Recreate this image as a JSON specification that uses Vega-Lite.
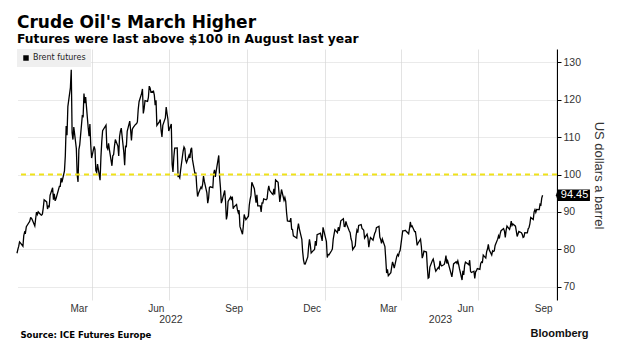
{
  "$schema": "https://vega.github.io/schema/vega-lite/v6.json",
  "width": 540,
  "height": 251,
  "autosize": "none",
  "padding": {"left": 17, "top": 49, "right": 67, "bottom": 54},
  "background": "white",
  "config": {"view": {"stroke": null}},
  "title": {
    "text": "Crude Oil's March Higher",
    "subtitle": "Futures were last above $100 in August last year",
    "anchor": "start", "frame": "group",
    "font": "DejaVu Sans", "fontSize": 17, "fontWeight": "bold", "color": "#000000",
    "subtitleFont": "DejaVu Sans", "subtitleFontSize": 12.3, "subtitleFontWeight": "bold", "subtitleColor": "#000000",
    "subtitlePadding": 1, "offset": 3
  },
  "datasets": {
    "brent": [
      {"d":"2022-01-03","v":78.98},{"d":"2022-01-04","v":80.00},{"d":"2022-01-05","v":80.80},{"d":"2022-01-06","v":81.99},{"d":"2022-01-07","v":81.75},
      {"d":"2022-01-10","v":80.87},{"d":"2022-01-11","v":83.72},{"d":"2022-01-12","v":84.67},{"d":"2022-01-13","v":84.47},{"d":"2022-01-14","v":86.06},
      {"d":"2022-01-18","v":87.51},{"d":"2022-01-19","v":88.44},{"d":"2022-01-20","v":88.38},{"d":"2022-01-21","v":87.89},
      {"d":"2022-01-24","v":86.27},{"d":"2022-01-25","v":88.20},{"d":"2022-01-26","v":89.96},{"d":"2022-01-27","v":89.34},{"d":"2022-01-28","v":90.03},
      {"d":"2022-01-31","v":89.26},{"d":"2022-02-01","v":89.16},{"d":"2022-02-02","v":89.47},{"d":"2022-02-03","v":91.11},{"d":"2022-02-04","v":93.27},
      {"d":"2022-02-07","v":92.69},{"d":"2022-02-08","v":90.78},{"d":"2022-02-09","v":91.55},{"d":"2022-02-10","v":91.41},{"d":"2022-02-11","v":94.44},
      {"d":"2022-02-14","v":96.48},{"d":"2022-02-15","v":93.28},{"d":"2022-02-16","v":94.81},{"d":"2022-02-17","v":92.97},{"d":"2022-02-18","v":93.54},
      {"d":"2022-02-22","v":96.84},{"d":"2022-02-23","v":96.84},{"d":"2022-02-24","v":99.08},{"d":"2022-02-25","v":97.93},
      {"d":"2022-02-28","v":100.99},{"d":"2022-03-01","v":104.97},{"d":"2022-03-02","v":112.93},{"d":"2022-03-03","v":110.46},{"d":"2022-03-04","v":118.11},
      {"d":"2022-03-07","v":123.21},{"d":"2022-03-08","v":127.98},{"d":"2022-03-09","v":111.14},{"d":"2022-03-10","v":109.33},{"d":"2022-03-11","v":112.67},
      {"d":"2022-03-14","v":106.90},{"d":"2022-03-15","v":99.91},{"d":"2022-03-16","v":98.02},{"d":"2022-03-17","v":106.64},{"d":"2022-03-18","v":107.93},
      {"d":"2022-03-21","v":115.62},{"d":"2022-03-22","v":115.48},{"d":"2022-03-23","v":121.60},{"d":"2022-03-24","v":119.03},{"d":"2022-03-25","v":120.65},
      {"d":"2022-03-28","v":112.48},{"d":"2022-03-29","v":110.23},{"d":"2022-03-30","v":113.45},{"d":"2022-03-31","v":107.91},{"d":"2022-04-01","v":104.39},
      {"d":"2022-04-04","v":107.53},{"d":"2022-04-05","v":106.64},{"d":"2022-04-06","v":101.07},{"d":"2022-04-07","v":100.58},{"d":"2022-04-08","v":102.78},
      {"d":"2022-04-11","v":98.48},{"d":"2022-04-12","v":104.64},{"d":"2022-04-13","v":108.78},{"d":"2022-04-14","v":111.70},
      {"d":"2022-04-18","v":113.16},{"d":"2022-04-19","v":107.25},{"d":"2022-04-20","v":106.80},{"d":"2022-04-21","v":108.33},{"d":"2022-04-22","v":106.65},
      {"d":"2022-04-25","v":102.32},{"d":"2022-04-26","v":104.99},{"d":"2022-04-27","v":105.32},{"d":"2022-04-28","v":107.59},{"d":"2022-04-29","v":109.34},
      {"d":"2022-05-02","v":107.58},{"d":"2022-05-03","v":104.97},{"d":"2022-05-04","v":110.14},{"d":"2022-05-05","v":111.55},{"d":"2022-05-06","v":112.39},
      {"d":"2022-05-09","v":105.94},{"d":"2022-05-10","v":102.46},{"d":"2022-05-11","v":107.51},{"d":"2022-05-12","v":107.45},{"d":"2022-05-13","v":111.55},
      {"d":"2022-05-16","v":114.24},{"d":"2022-05-17","v":111.93},{"d":"2022-05-18","v":109.11},{"d":"2022-05-19","v":112.04},{"d":"2022-05-20","v":112.55},
      {"d":"2022-05-23","v":113.42},{"d":"2022-05-24","v":113.56},{"d":"2022-05-25","v":114.03},{"d":"2022-05-26","v":117.40},{"d":"2022-05-27","v":119.43},
      {"d":"2022-05-30","v":121.67},{"d":"2022-05-31","v":122.84},{"d":"2022-06-01","v":116.29},{"d":"2022-06-02","v":117.61},{"d":"2022-06-03","v":119.72},
      {"d":"2022-06-06","v":119.51},{"d":"2022-06-07","v":120.57},{"d":"2022-06-08","v":123.58},{"d":"2022-06-09","v":123.07},{"d":"2022-06-10","v":122.01},
      {"d":"2022-06-13","v":122.27},{"d":"2022-06-14","v":121.17},{"d":"2022-06-15","v":118.51},{"d":"2022-06-16","v":119.81},{"d":"2022-06-17","v":113.12},
      {"d":"2022-06-20","v":114.13},{"d":"2022-06-21","v":114.65},{"d":"2022-06-22","v":111.74},{"d":"2022-06-23","v":110.05},{"d":"2022-06-24","v":113.12},
      {"d":"2022-06-27","v":115.09},{"d":"2022-06-28","v":117.98},{"d":"2022-06-29","v":116.26},{"d":"2022-06-30","v":114.81},{"d":"2022-07-01","v":111.63},
      {"d":"2022-07-04","v":113.50},{"d":"2022-07-05","v":102.77},{"d":"2022-07-06","v":100.69},{"d":"2022-07-07","v":104.65},{"d":"2022-07-08","v":107.02},
      {"d":"2022-07-11","v":107.10},{"d":"2022-07-12","v":99.49},{"d":"2022-07-13","v":99.57},{"d":"2022-07-14","v":99.10},{"d":"2022-07-15","v":101.16},
      {"d":"2022-07-18","v":106.27},{"d":"2022-07-19","v":107.35},{"d":"2022-07-20","v":106.92},{"d":"2022-07-21","v":103.86},{"d":"2022-07-22","v":103.20},
      {"d":"2022-07-25","v":105.15},{"d":"2022-07-26","v":104.40},{"d":"2022-07-27","v":106.62},{"d":"2022-07-28","v":107.14},{"d":"2022-07-29","v":103.97},
      {"d":"2022-08-01","v":100.03},{"d":"2022-08-02","v":100.54},{"d":"2022-08-03","v":96.78},{"d":"2022-08-04","v":94.12},{"d":"2022-08-05","v":94.92},
      {"d":"2022-08-08","v":96.65},{"d":"2022-08-09","v":96.31},{"d":"2022-08-10","v":97.40},{"d":"2022-08-11","v":99.60},{"d":"2022-08-12","v":98.15},
      {"d":"2022-08-15","v":95.10},{"d":"2022-08-16","v":92.34},{"d":"2022-08-17","v":93.65},{"d":"2022-08-18","v":96.59},{"d":"2022-08-19","v":96.72},
      {"d":"2022-08-22","v":96.48},{"d":"2022-08-23","v":100.22},{"d":"2022-08-24","v":101.22},{"d":"2022-08-25","v":99.34},{"d":"2022-08-26","v":100.99},
      {"d":"2022-08-29","v":105.09},{"d":"2022-08-30","v":99.31},{"d":"2022-08-31","v":96.49},{"d":"2022-09-01","v":92.36},{"d":"2022-09-02","v":93.02},
      {"d":"2022-09-05","v":95.74},{"d":"2022-09-06","v":92.83},{"d":"2022-09-07","v":88.00},{"d":"2022-09-08","v":89.15},{"d":"2022-09-09","v":92.84},
      {"d":"2022-09-12","v":94.00},{"d":"2022-09-13","v":93.17},{"d":"2022-09-14","v":94.10},{"d":"2022-09-15","v":90.84},{"d":"2022-09-16","v":91.35},
      {"d":"2022-09-19","v":92.00},{"d":"2022-09-20","v":90.62},{"d":"2022-09-21","v":89.83},{"d":"2022-09-22","v":90.46},{"d":"2022-09-23","v":86.15},
      {"d":"2022-09-26","v":84.06},{"d":"2022-09-27","v":86.27},{"d":"2022-09-28","v":89.32},{"d":"2022-09-29","v":88.49},{"d":"2022-09-30","v":87.96},
      {"d":"2022-10-03","v":88.86},{"d":"2022-10-04","v":91.80},{"d":"2022-10-05","v":93.37},{"d":"2022-10-06","v":94.42},{"d":"2022-10-07","v":97.92},
      {"d":"2022-10-10","v":96.19},{"d":"2022-10-11","v":94.29},{"d":"2022-10-12","v":92.45},{"d":"2022-10-13","v":94.57},{"d":"2022-10-14","v":91.63},
      {"d":"2022-10-17","v":91.62},{"d":"2022-10-18","v":90.03},{"d":"2022-10-19","v":92.41},{"d":"2022-10-20","v":92.38},{"d":"2022-10-21","v":93.50},
      {"d":"2022-10-24","v":93.26},{"d":"2022-10-25","v":93.52},{"d":"2022-10-26","v":95.69},{"d":"2022-10-27","v":96.96},{"d":"2022-10-28","v":95.77},
      {"d":"2022-10-31","v":94.83},{"d":"2022-11-01","v":94.65},{"d":"2022-11-02","v":96.16},{"d":"2022-11-03","v":94.67},{"d":"2022-11-04","v":98.57},
      {"d":"2022-11-07","v":97.92},{"d":"2022-11-08","v":95.36},{"d":"2022-11-09","v":92.65},{"d":"2022-11-10","v":94.29},{"d":"2022-11-11","v":95.99},
      {"d":"2022-11-14","v":93.14},{"d":"2022-11-15","v":93.86},{"d":"2022-11-16","v":92.86},{"d":"2022-11-17","v":89.78},{"d":"2022-11-18","v":87.62},
      {"d":"2022-11-21","v":87.45},{"d":"2022-11-22","v":88.36},{"d":"2022-11-23","v":85.41},{"d":"2022-11-24","v":85.34},{"d":"2022-11-25","v":83.63},
      {"d":"2022-11-28","v":83.19},{"d":"2022-11-29","v":83.03},{"d":"2022-11-30","v":85.43},{"d":"2022-12-01","v":86.88},{"d":"2022-12-02","v":85.57},
      {"d":"2022-12-05","v":82.68},{"d":"2022-12-06","v":79.35},{"d":"2022-12-07","v":77.17},{"d":"2022-12-08","v":76.15},{"d":"2022-12-09","v":76.10},
      {"d":"2022-12-12","v":77.99},{"d":"2022-12-13","v":80.68},{"d":"2022-12-14","v":82.70},{"d":"2022-12-15","v":81.21},{"d":"2022-12-16","v":79.04},
      {"d":"2022-12-19","v":79.80},{"d":"2022-12-20","v":79.99},{"d":"2022-12-21","v":82.20},{"d":"2022-12-22","v":80.98},{"d":"2022-12-23","v":83.92},
      {"d":"2022-12-27","v":84.33},{"d":"2022-12-28","v":83.26},{"d":"2022-12-29","v":82.26},{"d":"2022-12-30","v":85.91},
      {"d":"2023-01-03","v":82.10},{"d":"2023-01-04","v":77.84},{"d":"2023-01-05","v":78.69},{"d":"2023-01-06","v":78.57},
      {"d":"2023-01-09","v":79.65},{"d":"2023-01-10","v":80.10},{"d":"2023-01-11","v":82.67},{"d":"2023-01-12","v":84.03},{"d":"2023-01-13","v":85.28},
      {"d":"2023-01-16","v":84.46},{"d":"2023-01-17","v":85.92},{"d":"2023-01-18","v":84.98},{"d":"2023-01-19","v":86.16},{"d":"2023-01-20","v":87.63},
      {"d":"2023-01-23","v":88.19},{"d":"2023-01-24","v":86.13},{"d":"2023-01-25","v":86.12},{"d":"2023-01-26","v":87.47},{"d":"2023-01-27","v":86.66},
      {"d":"2023-01-30","v":84.90},{"d":"2023-01-31","v":84.49},{"d":"2023-02-01","v":82.84},{"d":"2023-02-02","v":82.17},{"d":"2023-02-03","v":79.94},
      {"d":"2023-02-06","v":80.99},{"d":"2023-02-07","v":83.69},{"d":"2023-02-08","v":85.09},{"d":"2023-02-09","v":84.50},{"d":"2023-02-10","v":86.39},
      {"d":"2023-02-13","v":86.61},{"d":"2023-02-14","v":85.58},{"d":"2023-02-15","v":85.38},{"d":"2023-02-16","v":85.14},{"d":"2023-02-17","v":83.00},
      {"d":"2023-02-20","v":84.07},{"d":"2023-02-21","v":83.05},{"d":"2023-02-22","v":80.60},{"d":"2023-02-23","v":82.21},{"d":"2023-02-24","v":83.16},
      {"d":"2023-02-27","v":82.45},{"d":"2023-02-28","v":83.45},{"d":"2023-03-01","v":84.31},{"d":"2023-03-02","v":84.75},{"d":"2023-03-03","v":85.83},
      {"d":"2023-03-06","v":86.18},{"d":"2023-03-07","v":83.29},{"d":"2023-03-08","v":82.66},{"d":"2023-03-09","v":81.59},{"d":"2023-03-10","v":82.78},
      {"d":"2023-03-13","v":80.77},{"d":"2023-03-14","v":77.45},{"d":"2023-03-15","v":73.69},{"d":"2023-03-16","v":74.70},{"d":"2023-03-17","v":72.97},
      {"d":"2023-03-20","v":73.79},{"d":"2023-03-21","v":75.32},{"d":"2023-03-22","v":76.69},{"d":"2023-03-23","v":75.91},{"d":"2023-03-24","v":74.99},
      {"d":"2023-03-27","v":78.12},{"d":"2023-03-28","v":78.65},{"d":"2023-03-29","v":78.28},{"d":"2023-03-30","v":79.27},{"d":"2023-03-31","v":79.77},
      {"d":"2023-04-03","v":84.93},{"d":"2023-04-04","v":84.94},{"d":"2023-04-05","v":84.99},{"d":"2023-04-06","v":85.12},
      {"d":"2023-04-10","v":84.18},{"d":"2023-04-11","v":85.61},{"d":"2023-04-12","v":87.33},{"d":"2023-04-13","v":86.09},{"d":"2023-04-14","v":86.31},
      {"d":"2023-04-17","v":84.76},{"d":"2023-04-18","v":84.77},{"d":"2023-04-19","v":83.12},{"d":"2023-04-20","v":81.10},{"d":"2023-04-21","v":81.66},
      {"d":"2023-04-24","v":82.73},{"d":"2023-04-25","v":80.77},{"d":"2023-04-26","v":77.69},{"d":"2023-04-27","v":78.37},{"d":"2023-04-28","v":79.54},
      {"d":"2023-05-01","v":79.31},{"d":"2023-05-02","v":75.32},{"d":"2023-05-03","v":72.33},{"d":"2023-05-04","v":72.50},{"d":"2023-05-05","v":75.30},
      {"d":"2023-05-08","v":77.01},{"d":"2023-05-09","v":77.44},{"d":"2023-05-10","v":76.41},{"d":"2023-05-11","v":74.98},{"d":"2023-05-12","v":74.17},
      {"d":"2023-05-15","v":75.23},{"d":"2023-05-16","v":74.91},{"d":"2023-05-17","v":76.96},{"d":"2023-05-18","v":75.86},{"d":"2023-05-19","v":75.58},
      {"d":"2023-05-22","v":75.99},{"d":"2023-05-23","v":76.84},{"d":"2023-05-24","v":78.36},{"d":"2023-05-25","v":76.26},{"d":"2023-05-26","v":76.95},
      {"d":"2023-05-30","v":73.54},{"d":"2023-05-31","v":72.66},{"d":"2023-06-01","v":74.28},{"d":"2023-06-02","v":76.13},
      {"d":"2023-06-05","v":76.71},{"d":"2023-06-06","v":76.29},{"d":"2023-06-07","v":76.95},{"d":"2023-06-08","v":75.96},{"d":"2023-06-09","v":74.79},
      {"d":"2023-06-12","v":71.84},{"d":"2023-06-13","v":74.29},{"d":"2023-06-14","v":73.20},{"d":"2023-06-15","v":75.67},{"d":"2023-06-16","v":76.61},
      {"d":"2023-06-19","v":76.09},{"d":"2023-06-20","v":75.90},{"d":"2023-06-21","v":77.12},{"d":"2023-06-22","v":74.14},{"d":"2023-06-23","v":73.85},
      {"d":"2023-06-26","v":74.18},{"d":"2023-06-27","v":72.26},{"d":"2023-06-28","v":74.03},{"d":"2023-06-29","v":74.34},{"d":"2023-06-30","v":74.90},
      {"d":"2023-07-03","v":74.65},{"d":"2023-07-04","v":76.25},{"d":"2023-07-05","v":76.65},{"d":"2023-07-06","v":76.52},{"d":"2023-07-07","v":78.47},
      {"d":"2023-07-10","v":77.69},{"d":"2023-07-11","v":79.40},{"d":"2023-07-12","v":80.11},{"d":"2023-07-13","v":81.36},{"d":"2023-07-14","v":79.87},
      {"d":"2023-07-17","v":78.50},{"d":"2023-07-18","v":79.63},{"d":"2023-07-19","v":79.46},{"d":"2023-07-20","v":79.64},{"d":"2023-07-21","v":81.07},
      {"d":"2023-07-24","v":82.74},{"d":"2023-07-25","v":83.64},{"d":"2023-07-26","v":82.92},{"d":"2023-07-27","v":84.24},{"d":"2023-07-28","v":84.99},
      {"d":"2023-07-31","v":85.56},{"d":"2023-08-01","v":84.91},{"d":"2023-08-02","v":83.20},{"d":"2023-08-03","v":85.14},{"d":"2023-08-04","v":86.24},
      {"d":"2023-08-07","v":85.34},{"d":"2023-08-08","v":86.17},{"d":"2023-08-09","v":87.55},{"d":"2023-08-10","v":86.40},{"d":"2023-08-11","v":86.81},
      {"d":"2023-08-14","v":86.21},{"d":"2023-08-15","v":84.89},{"d":"2023-08-16","v":83.45},{"d":"2023-08-17","v":84.12},{"d":"2023-08-18","v":84.80},
      {"d":"2023-08-21","v":84.46},{"d":"2023-08-22","v":84.03},{"d":"2023-08-23","v":83.21},{"d":"2023-08-24","v":83.36},{"d":"2023-08-25","v":84.48},
      {"d":"2023-08-28","v":84.42},{"d":"2023-08-29","v":85.49},{"d":"2023-08-30","v":85.86},{"d":"2023-08-31","v":86.83},{"d":"2023-09-01","v":88.55},
      {"d":"2023-09-04","v":88.00},{"d":"2023-09-05","v":90.04},{"d":"2023-09-06","v":90.60},{"d":"2023-09-07","v":89.92},{"d":"2023-09-08","v":90.65},
      {"d":"2023-09-11","v":90.64},{"d":"2023-09-12","v":92.06},{"d":"2023-09-13","v":91.88},{"d":"2023-09-14","v":93.70},{"d":"2023-09-15","v":94.45}
    ],
    "last": [{"d":"2023-09-15","v":94.45}],
    "years": [{"d":"2022-07-03","v":100},{"d":"2023-05-17","v":100}],
    "ref": [{"level":100}]
  },
  "resolve": {"axis": {"x": "independent"}},
  "layer": [
    {
      "data": {"name": "brent"},
      "mark": {"type": "line", "color": "#000000", "strokeWidth": 1.3},
      "encoding": {
        "x": {
          "field": "d", "type": "temporal",
          "scale": {"type": "utc", "domain": [{"year":2022,"month":1,"date":3,"utc":true},{"year":2023,"month":10,"date":2,"utc":true}]},
          "axis": {
            "orient": "bottom",
            "values": [
              {"year":2022,"month":4,"date":1,"utc":true},{"year":2022,"month":7,"date":1,"utc":true},{"year":2022,"month":10,"date":1,"utc":true},
              {"year":2023,"month":1,"date":1,"utc":true},{"year":2023,"month":4,"date":1,"utc":true},{"year":2023,"month":7,"date":1,"utc":true},
              {"year":2023,"month":10,"date":1,"utc":true}
            ],
            "labelExpr": "utcFormat(datum.value - 16*86400000, '%b')",
            "labelOffset": -13, "labelPadding": 3, "labelFont": "Liberation Sans", "labelFontSize": 10, "labelColor": "#333333",
            "labelOverlap": false, "labelFlush": false,
            "ticks": false, "domain": false,
            "grid": true, "gridColor": "#e3e3e3", "gridWidth": 1,
            "title": "Source: ICE Futures Europe",
            "titleX": 3, "titleY": 37, "titleAlign": "left", "titleAnchor": "start", "titleBaseline": "alphabetic",
            "titleFont": "DejaVu Sans", "titleFontSize": 8.5, "titleFontWeight": "bold", "titleColor": "#000000"
          }
        },
        "y": {
          "field": "v", "type": "quantitative",
          "scale": {"domain": [66.5, 133.5], "nice": false, "zero": false},
          "axis": {
            "orient": "right", "values": [70, 80, 90, 100, 110, 120, 130],
            "domain": true, "domainColor": "#000000", "domainWidth": 1,
            "ticks": true, "tickColor": "#000000", "tickSize": 4,
            "labelPadding": 2, "labelFont": "Liberation Sans", "labelFontSize": 10.5, "labelColor": "#333333",
            "grid": true, "gridColor": "#d5d5d5", "gridDash": [1, 1],
            "title": "US dollars a barrel", "titleAngle": 90, "titleX": 41, "titleY": 126,
            "titleAlign": "center", "titleBaseline": "middle",
            "titleFont": "Liberation Sans", "titleFontSize": 13, "titleFontWeight": "normal", "titleColor": "#333333"
          }
        },
        "color": {
          "datum": "Brent futures",
          "scale": {"range": ["#000000"]},
          "legend": {
            "title": null, "orient": "none", "legendX": 0, "legendY": 0,
            "fillColor": "#efefef", "padding": 5,
            "symbolType": "square", "symbolSize": 30, "symbolFillColor": "#000000", "symbolStrokeWidth": 0,
            "labelFont": "DejaVu Sans", "labelFontSize": 8, "labelColor": "#222222", "labelOffset": 3
          }
        }
      }
    },
    {
      "data": {"name": "ref"},
      "mark": {"type": "rule", "color": "#f0e21a", "strokeWidth": 2, "strokeDash": [5, 4]},
      "encoding": {
        "y": {"field": "level", "type": "quantitative"}
      }
    },
    {
      "data": {"name": "years"},
      "mark": {"type": "point", "opacity": 0},
      "encoding": {
        "x": {
          "field": "d", "type": "temporal",
          "scale": {"type": "utc", "domain": [{"year":2022,"month":1,"date":3,"utc":true},{"year":2023,"month":10,"date":2,"utc":true}]},
          "axis": {
            "orient": "bottom",
            "values": [{"year":2022,"month":7,"date":3,"utc":true},{"year":2023,"month":5,"date":17,"utc":true}],
            "labelExpr": "utcFormat(datum.value, '%Y')",
            "labelPadding": 14, "labelFont": "Liberation Sans", "labelFontSize": 10.5, "labelColor": "#333333",
            "labelOverlap": false, "labelFlush": false,
            "ticks": false, "domain": false, "grid": false,
            "title": "Bloomberg",
            "titleX": 571, "titleY": 36, "titleAlign": "right", "titleAnchor": "end", "titleBaseline": "alphabetic",
            "titleFont": "Liberation Sans", "titleFontSize": 11, "titleFontWeight": "bold", "titleColor": "#111111"
          }
        },
        "y": {"field": "v", "type": "quantitative"}
      }
    },
    {
      "data": {"name": "last"},
      "mark": {"type": "point", "shape": "M-1.3,0L-1.15,-0.42L1.2,-0.42L1.2,0.42L-1.15,0.42Z", "size": 740, "filled": true, "color": "#000000", "opacity": 1, "xOffset": 31},
      "encoding": {
        "x": {"field": "d", "type": "temporal", "axis": null},
        "y": {"field": "v", "type": "quantitative"}
      }
    },
    {
      "data": {"name": "last"},
      "mark": {"type": "text", "color": "#ffffff", "font": "Liberation Sans", "fontSize": 11, "align": "center", "baseline": "middle", "xOffset": 32},
      "encoding": {
        "x": {"field": "d", "type": "temporal", "axis": null},
        "y": {"field": "v", "type": "quantitative"},
        "text": {"field": "v", "type": "quantitative", "format": ".2f"}
      }
    }
  ]
}
